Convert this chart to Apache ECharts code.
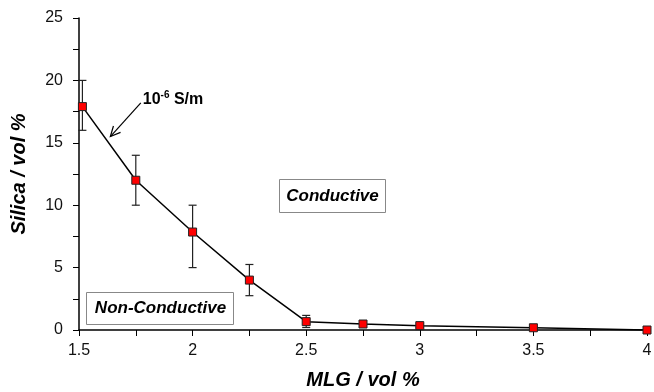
<!DOCTYPE html>
<html><head><meta charset="utf-8">
<script src="https://cdn.jsdelivr.net/npm/echarts@6/dist/echarts.min.js"></script>
<style>html,body{margin:0;padding:0;background:#fff}#c{width:654px;height:392px}</style>
</head><body><div id="c"></div>
<script>
var mlg = [1.515, 1.75, 2.0, 2.25, 2.5, 2.75, 3.0, 3.5, 4.0];
var silica = [17.9, 12.0, 7.85, 4.0, 0.67, 0.48, 0.35, 0.18, 0.0];
var errLow = [16.0, 10.0, 5.0, 2.75, 0.2, 0.3, 0.2, 0.1, 0.0];
var errHigh = [20.0, 14.0, 10.0, 5.25, 1.17, 0.65, 0.5, 0.26, 0.0];
var FONT = '"Liberation Sans", Arial, sans-serif';

var lineData = mlg.map(function (x, i) { return [x, silica[i]]; });
var errData = mlg.map(function (x, i) { return [x, errLow[i], errHigh[i]]; });

var chart = echarts.init(document.getElementById('c'));
chart.setOption({
  animation: false,
  backgroundColor: '#fff',
  textStyle: { fontFamily: FONT },
  grid: { left: 79, right: 7, top: 18, bottom: 62, containLabel: false, outerBoundsMode: 'none' },
  xAxis: {
    type: 'value', min: 1.5, max: 4, interval: 0.5,
    name: 'MLG / vol %', nameLocation: 'middle', nameGap: 40,
    nameTextStyle: { fontFamily: FONT, fontSize: 20, fontWeight: 'bold', fontStyle: 'italic', color: '#000' },
    axisLine: { onZero: false, lineStyle: { color: '#000', width: 1.5 } },
    axisTick: { show: true, length: 6, lineStyle: { color: '#000', width: 1 } },
    minorTick: { show: true, splitNumber: 2, length: 6, lineStyle: { color: '#000', width: 1 } },
    axisLabel: { fontFamily: FONT, fontSize: 16, color: '#111', margin: 13,
      formatter: function (v) { return String(+v.toFixed(2)); } },
    splitLine: { show: false }
  },
  yAxis: {
    type: 'value', min: 0, max: 25, interval: 5,
    name: 'Silica / vol %', nameLocation: 'middle', nameGap: 50,
    nameTextStyle: { fontFamily: FONT, fontSize: 20, fontWeight: 'bold', fontStyle: 'italic', color: '#000' },
    axisLine: { show: true, lineStyle: { color: '#000', width: 1.5 } },
    axisTick: { show: true, length: 6, lineStyle: { color: '#000', width: 1 } },
    minorTick: { show: true, splitNumber: 2, length: 6, lineStyle: { color: '#000', width: 1 } },
    axisLabel: { fontFamily: FONT, fontSize: 16, color: '#111', margin: 16 },
    splitLine: { show: false }
  },
  series: [
    {
      type: 'custom', name: 'err', z: 3, clip: false,
      data: errData,
      renderItem: function (params, api) {
        var x = api.value(0);
        var lo = api.coord([x, api.value(1)]);
        var hi = api.coord([x, api.value(2)]);
        var w = 4;
        var st = { stroke: '#222', lineWidth: 1.2 };
        return { type: 'group', children: [
          { type: 'line', shape: { x1: lo[0], y1: lo[1], x2: hi[0], y2: hi[1] }, style: st },
          { type: 'line', shape: { x1: lo[0] - w, y1: lo[1], x2: lo[0] + w, y2: lo[1] }, style: st },
          { type: 'line', shape: { x1: hi[0] - w, y1: hi[1], x2: hi[0] + w, y2: hi[1] }, style: st }
        ]};
      }
    },
    {
      type: 'line', name: 'silica', z: 4, clip: false,
      data: lineData,
      lineStyle: { color: '#000', width: 1.5 },
      symbol: 'rect', symbolSize: 8,
      itemStyle: { color: '#ff0000', borderColor: '#222', borderWidth: 1 },
      label: { show: false }
    },
    {
      type: 'custom', name: 'arrow', z: 5, clip: false,
      data: [[1.772, 18.2, 1.638, 15.5]],
      renderItem: function (params, api) {
        var a = api.coord([api.value(0), api.value(1)]);
        var b = api.coord([api.value(2), api.value(3)]);
        var ang = Math.atan2(b[1] - a[1], b[0] - a[0]);
        var L = 11, sp = 0.45;
        var p1 = [b[0] - L * Math.cos(ang - sp), b[1] - L * Math.sin(ang - sp)];
        var p2 = [b[0] - L * Math.cos(ang + sp), b[1] - L * Math.sin(ang + sp)];
        var st = { stroke: '#000', lineWidth: 1.2, fill: null };
        return { type: 'group', children: [
          { type: 'line', shape: { x1: a[0], y1: a[1], x2: b[0], y2: b[1] }, style: st },
          { type: 'polyline', shape: { points: [p1, b, p2] }, style: st },
          { type: 'text', x: a[0] + 2, y: a[1] - 3,
            style: { text: '{b|10}{s|-6}{b| S/m}', textVerticalAlign: 'middle', rich: {
              b: { fontFamily: FONT, fontSize: 16, fontWeight: 'bold', fill: '#000', color: '#000' },
              s: { fontFamily: FONT, fontSize: 10, fontWeight: 'bold', color: '#000', fill: '#000', verticalAlign: 'top', padding: [0, 0, 9, 0] }
            } } }
        ]};
      }
    }
  ],
  graphic: [
    { type: 'group', left: 279, top: 179, children: [
      { type: 'rect', shape: { x: 0, y: 0, width: 106, height: 33 }, style: { fill: '#fff', stroke: '#888', lineWidth: 1 } },
      { type: 'text', x: 53, y: 17, style: { text: 'Conductive', textAlign: 'center', textVerticalAlign: 'middle',
        font: 'italic bold 17px ' + FONT, fill: '#000' } }
    ]},
    { type: 'group', left: 86, top: 292, children: [
      { type: 'rect', shape: { x: 0, y: 0, width: 147, height: 32 }, style: { fill: '#fff', stroke: '#888', lineWidth: 1 } },
      { type: 'text', x: 74, y: 16, style: { text: 'Non-Conductive', textAlign: 'center', textVerticalAlign: 'middle',
        font: 'italic bold 17px ' + FONT, fill: '#000' } }
    ]}
  ]
});
</script></body></html>
